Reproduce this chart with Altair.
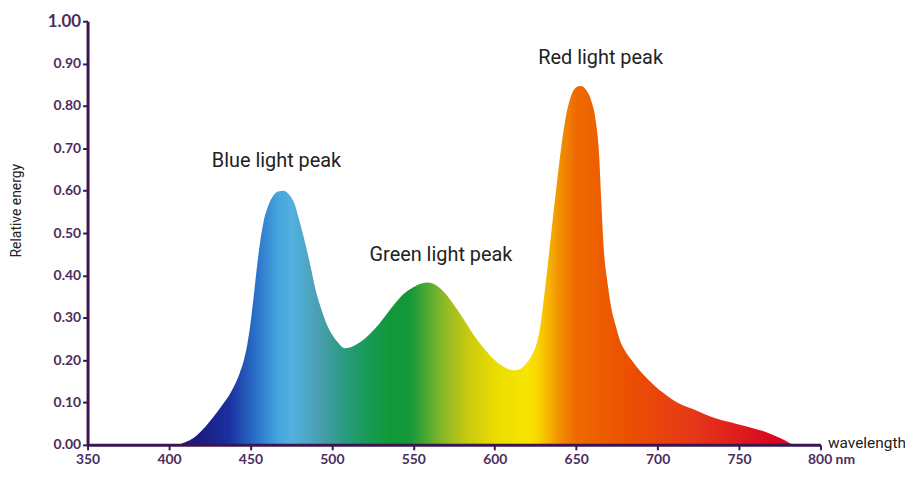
import altair as alt
import pandas as pd

# ---- data ----
wavelength = [405, 410, 415, 420, 426, 432, 438, 443, 446, 448, 450, 452, 454, 456, 458, 461,
              464, 467, 470, 474, 477, 480, 484, 487, 490, 494, 498, 503, 508, 511, 515, 520,
              526, 532, 538, 544, 550, 555, 559, 564, 569, 575, 581, 587, 594, 600, 606, 611,
              615, 619, 623, 626, 628, 630, 632, 635, 639, 643, 647, 651, 653, 656, 659, 662, 664,
              665.5, 667, 669, 672, 674, 677, 680, 684, 687, 694, 703, 712, 722, 736, 748, 758,
              766, 773, 778, 783]
energy = [0.0, 0.006, 0.016, 0.033, 0.06, 0.09, 0.124, 0.165, 0.2, 0.235, 0.285, 0.35, 0.42,
          0.48, 0.525, 0.565, 0.588, 0.598, 0.60, 0.59, 0.57, 0.53, 0.47, 0.42, 0.366, 0.315,
          0.275, 0.245, 0.228, 0.23, 0.237, 0.25, 0.272, 0.30, 0.33, 0.356, 0.372, 0.381,
          0.383, 0.377, 0.36, 0.33, 0.296, 0.26, 0.225, 0.20, 0.183, 0.176, 0.178, 0.19, 0.213,
          0.243, 0.28, 0.34, 0.405, 0.51, 0.645, 0.76, 0.825, 0.846, 0.847, 0.838, 0.815, 0.765,
          0.69, 0.57, 0.46, 0.39, 0.315, 0.285, 0.245, 0.222, 0.2, 0.185, 0.155, 0.124, 0.1,
          0.084, 0.062, 0.05, 0.04, 0.031, 0.02, 0.011, 0.0]

stop_nm = [405, 418, 437, 453, 467, 475, 492, 508, 520, 536, 548, 569, 583, 600, 620, 626,
           640, 650, 681, 722, 762, 783]
stop_color = ["#1a1a70", "#1c1c80", "#1a30a0", "#2a70c8", "#45a5dd", "#52b0e0", "#4aa0b0",
              "#2a9a80", "#1a9a5a", "#109838", "#14983a", "#8cba28", "#c8c810", "#e8dc00",
              "#f8e400", "#f8d800", "#f29000", "#ee6a00", "#ec5000", "#e63818", "#dc1020",
              "#d8001c"]

x_ticks = [350, 400, 450, 500, 550, 600, 650, 700, 750, 800]
y_ticks = [0.0, 0.1, 0.2, 0.3, 0.4, 0.5, 0.6, 0.7, 0.8, 0.9, 1.0]

peak_labels = ["Blue light peak", "Green light peak", "Red light peak"]
peak_nm = [466, 567, 665]
peak_val = [0.671, 0.448, 0.913]

# ---- build ----
df = pd.DataFrame({"wl": wavelength, "e": energy})
lo, hi = min(wavelength), max(wavelength)
stops = [alt.GradientStop(offset=min(1.0, max(0.0, (n - lo) / (hi - lo))), color=c)
         for n, c in zip(stop_nm, stop_color)]
fill = alt.LinearGradient(gradient="linear", stops=stops, x1=0, x2=1, y1=0, y2=0)

axis_col = "#3a1650"
lab_col = "#4b2e5e"

x_axis = alt.Axis(
    values=x_ticks, format="d", title="wavelength",
    titleX=744, titleY=3, titleAlign="left", titleBaseline="alphabetic",
    titleFont="Roboto", titleFontSize=15.5, titleFontWeight="normal", titleColor="#222",
    labelExpr="datum.value == 800 ? '800 nm' : datum.label",
    labelAlign={"condition": {"test": "datum.value == 800", "value": "left"}, "value": "center"},
    labelOffset={"condition": {"test": "datum.value == 800", "value": -13}, "value": 0},
    labelFlush=False, labelOverlap=False,
    labelFont="Lato", labelFontWeight="bold", labelFontSize=14, labelColor=lab_col,
    labelPadding=3,
    domainColor=axis_col, domainWidth=3, tickColor=axis_col, tickWidth=2, tickSize=5,
    grid=False, zindex=1,
)
y_axis = alt.Axis(
    values=y_ticks, format=".2f", title="Relative energy",
    titleX=-71, titleY=190, titleAlign="center", titleBaseline="middle", titleAngle=-90,
    titleFont="Roboto", titleFontSize=14, titleFontWeight="normal", titleColor="#222",
    labelFont="Lato", labelFontWeight="bold", labelColor=lab_col,
    labelFontSize={"condition": {"test": "datum.value == 1", "value": 17}, "value": 14},
    labelPadding=2, labelOverlap=False,
    domainColor=axis_col, domainWidth=3, tickColor=axis_col, tickWidth=2, tickSize=5,
    grid=False, zindex=1,
)

xs = alt.Scale(domain=[350, 800], nice=False)
ys = alt.Scale(domain=[0, 1], nice=False)

area = alt.Chart(df).mark_area(interpolate="monotone", color=fill).encode(
    x=alt.X("wl:Q", scale=xs, axis=x_axis),
    y=alt.Y("e:Q", scale=ys, axis=y_axis),
)

tdf = pd.DataFrame({"wl": peak_nm, "e": peak_val, "label": peak_labels})
text = alt.Chart(tdf).mark_text(font="Roboto", fontSize=20, color="#222",
                                align="center", baseline="middle").encode(
    x=alt.X("wl:Q", scale=xs),
    y=alt.Y("e:Q", scale=ys),
    text="label:N",
)

chart = alt.layer(area, text).properties(
    width=737, height=426, autosize="none",
    padding={"left": 80, "top": 12, "right": 85, "bottom": 24},
    background="white",
).configure_view(stroke=None)

chart.save("out.html", embed_options={"renderer": "svg", "actions": False})
